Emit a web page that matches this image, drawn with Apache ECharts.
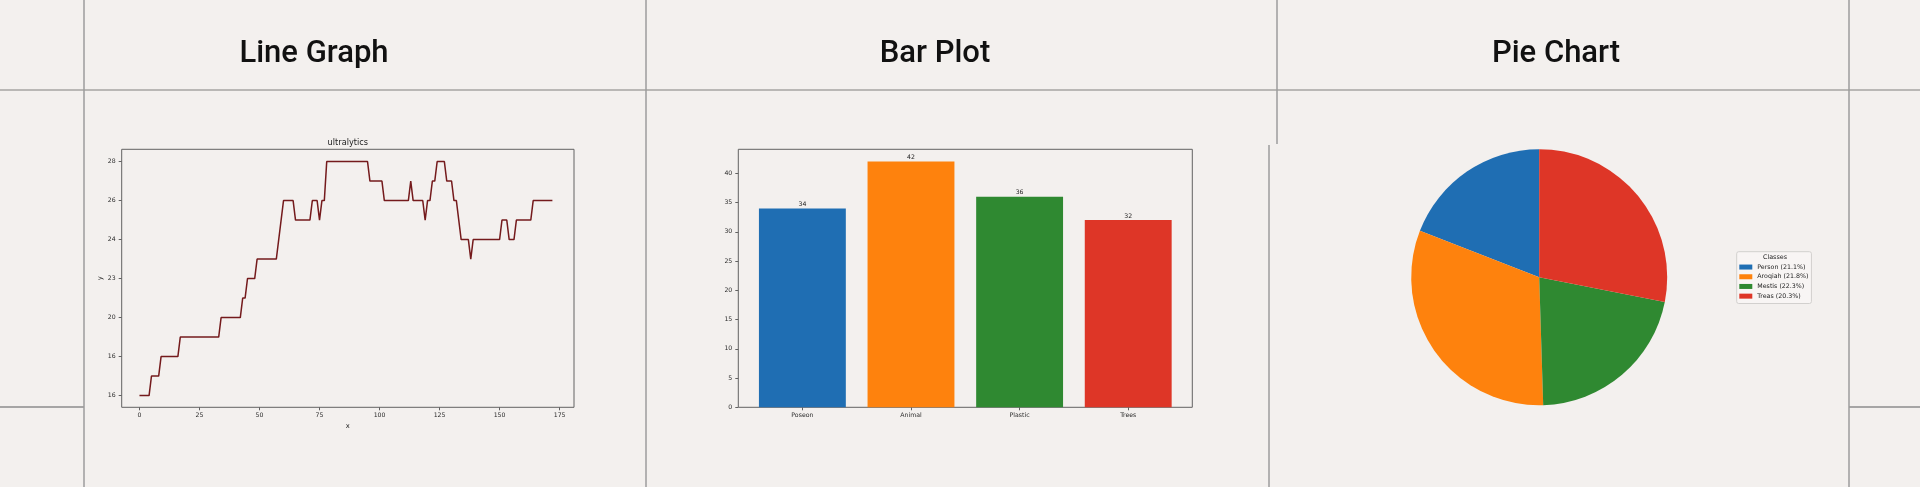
<!DOCTYPE html>
<html><head><meta charset="utf-8">
<script src="https://cdn.jsdelivr.net/npm/echarts@6/dist/echarts.min.js"></script>
<style>html,body{margin:0;padding:0;background:#f3f0ee}#c{width:1920px;height:487px}</style>
</head><body><div id="c"></div><script>
// ---- Data ----
const panelTitles = ['Line Graph', 'Bar Plot', 'Pie Chart'];
const lineTitle = 'ultralytics';
const lineX = [0,4,5,8,9,16,17,33,34,42,43,44,45,48,49,57,60,64,65,71,72,74,75,76,77,78,95,96,101,102,112,113,114,118,119,120,121,122,123,124,127,128,130,131,132,134,137,138,139,150,151,153,154,156,157,163,164,172];
const lineY = [16,16,17,17,18,18,19,19,20,20,21,21,22,22,23,23,26,26,25,25,26,26,25,26,26,28,28,27,27,26,26,27,26,26,25,26,26,27,27,28,28,27,27,26,26,24,24,23,24,24,25,25,24,24,25,25,26,26];
const lineXTicks = [0,25,50,75,100,125,150,175];
const lineYTicks = [16,18,20,22,24,26,28];
const lineYTickLabels = ['16','16','20','23','24','26','28'];
const barCats = ['Poseon','Animal','Plastic','Trees'];
const barValues = [34,42,36,32];
const barYTicks = [0,5,10,15,20,25,30,35,40];
const pieNames = ['Person','Aroqiah','Mestis','Treas'];
const pieLegendPct = ['21.1%','21.8%','22.3%','20.3%'];
const pieValues = [19.1,31.4,21.4,28.1];
const pieLegendTitle = 'Classes';

// ---- Styles ----
const colors = ['#1f6eb3','#fe820d','#2f8931','#de3627'];
const MPL = 'DejaVu Sans';
const axisCol = '#626262';
const tickTxt = {fontSize:6.2, color:'#2b2b2b', fontFamily:MPL};
const gridBase = {show:true, borderColor:axisCol, borderWidth:1, backgroundColor:'transparent', containLabel:false, outerBoundsMode:'none'};
const noLine = {show:false, onZero:false};

const chart = echarts.init(document.getElementById('c'));

function vline(x, y1, y2, c, w){ return {type:'line', silent:true, shape:{x1:x,y1:y1,x2:x,y2:y2}, style:{stroke:c, lineWidth:w}}; }
function hline(y, x1, x2, c, w){ return {type:'line', silent:true, shape:{x1:x1,y1:y,x2:x2,y2:y}, style:{stroke:c, lineWidth:w}}; }
function txt(x, y, t, size, family, weight, col){ return {type:'text', silent:true, z:200, x:x, y:y, style:{text:t, fontSize:size, fontFamily:family, fontWeight:weight, fill:col, align:'center', verticalAlign:'middle'}}; }

const titleX = [314, 935, 1556];

chart.setOption({
  backgroundColor:'#f3f0ee',
  animation:false,
  graphic:{elements:[
    hline(90, 0, 1920, '#b9b7b5', 2),
    hline(407, 0, 84, '#8c8c8c', 1.5),
    hline(407, 1849, 1920, '#8c8c8c', 1.5),
    vline(84, 0, 487, '#9d9d9d', 1.5),
    vline(646, 0, 487, '#9d9d9d', 1.5),
    vline(1277, 0, 144, '#9d9d9d', 1.5),
    vline(1269, 145, 487, '#9d9d9d', 1.5),
    vline(1849, 0, 487, '#9d9d9d', 1.5),
    txt(titleX[0], 54.5, panelTitles[0], 31, 'Roboto', 500, '#111'),
    txt(titleX[1], 54.5, panelTitles[1], 31, 'Roboto', 500, '#111'),
    txt(titleX[2], 54.5, panelTitles[2], 31, 'Roboto', 500, '#111'),
    txt(347.8, 142.7, lineTitle, 8.2, MPL, 'normal', '#222'),
    txt(1775, 257.3, pieLegendTitle, 6.4, MPL, 'normal', '#222')
  ]},
  grid:[
    Object.assign({left:121.7, top:149.3, width:452.3, height:258}, gridBase),
    Object.assign({left:738.3, top:149.3, width:454, height:258}, gridBase)
  ],
  xAxis:[
    {gridIndex:0, type:'value', min:-7.4, max:181,
     axisLine:noLine, splitLine:{show:false},
     axisTick:{show:true, length:3, lineStyle:{color:axisCol}, customValues:lineXTicks},
     axisLabel:Object.assign({customValues:lineXTicks, margin:5}, tickTxt),
     name:'x', nameLocation:'middle', nameGap:12, nameTextStyle:{fontSize:6.8, fontFamily:MPL, color:'#222'}},
    {gridIndex:1, type:'value', min:-0.59, max:3.59,
     axisLine:noLine, splitLine:{show:false},
     axisTick:{show:true, length:3, lineStyle:{color:axisCol}, customValues:[0,1,2,3]},
     axisLabel:Object.assign({customValues:[0,1,2,3], margin:5, formatter:v=>barCats[Math.round(v)]}, tickTxt)}
  ],
  yAxis:[
    {gridIndex:0, type:'value', min:15.4, max:28.63,
     axisLine:noLine, splitLine:{show:false},
     axisTick:{show:true, length:3, lineStyle:{color:axisCol}, customValues:lineYTicks},
     axisLabel:Object.assign({customValues:lineYTicks, margin:6, formatter:v=>lineYTickLabels[Math.round((v-16)/2)]}, tickTxt),
     name:'y', nameLocation:'middle', nameGap:18, nameTextStyle:{fontSize:6.8, fontFamily:MPL, color:'#222'}},
    {gridIndex:1, type:'value', min:0, max:44.1,
     axisLine:noLine, splitLine:{show:false},
     axisTick:{show:true, length:3, lineStyle:{color:axisCol}, customValues:barYTicks},
     axisLabel:Object.assign({customValues:barYTicks, margin:6}, tickTxt)}
  ],
  legend:{
    orient:'vertical', left:1736.7, top:251.7, padding:[10.5,3,2.5,2.6],
    itemWidth:13, itemHeight:5, itemGap:0, icon:'rect', selectedMode:false,
    backgroundColor:'rgba(248,246,245,0.85)', borderColor:'#d2d0ce', borderWidth:1, borderRadius:2,
    textStyle:{fontSize:6.3, fontFamily:MPL, color:'#222', lineHeight:9.7},
    formatter:name=>name+' ('+pieLegendPct[pieNames.indexOf(name)]+')',
    data:pieNames
  },
  series:[
    {type:'line', xAxisIndex:0, yAxisIndex:0, symbol:'none', silent:true,
     lineStyle:{color:'#741a1c', width:1.5},
     data:lineX.map((x,i)=>[x, lineY[i]])},
    {type:'custom', xAxisIndex:1, yAxisIndex:1, silent:true,
     data:barValues.map((v,i)=>[i, v]),
     renderItem:function(params, api){
       const i = api.value(0), v = api.value(1);
       const p0 = api.coord([i-0.4, v]);
       const p1 = api.coord([i+0.4, 0]);
       return {type:'group', children:[
         {type:'rect', shape:{x:p0[0], y:p0[1], width:p1[0]-p0[0], height:p1[1]-p0[1]}, style:{fill:colors[i]}},
         {type:'text', style:{text:String(v), x:(p0[0]+p1[0])/2, y:p0[1]-1, align:'center', verticalAlign:'bottom', fontSize:6.2, fontFamily:MPL, fill:'#222'}}
       ]};
     }},
    {type:'pie', center:[1539.2, 277.2], radius:128, startAngle:90, clockwise:false, silent:true,
     label:{show:false}, labelLine:{show:false}, itemStyle:{borderWidth:0},
     data:pieNames.map((n,i)=>({name:n, value:pieValues[i], itemStyle:{color:colors[i]}}))}
  ]
});
</script></body></html>
